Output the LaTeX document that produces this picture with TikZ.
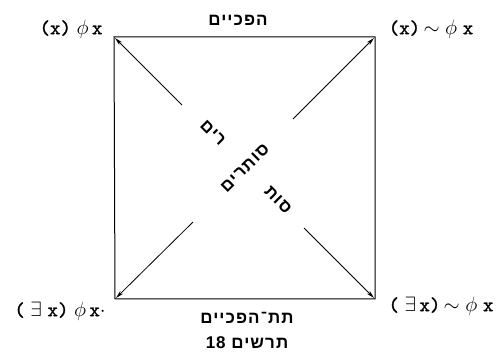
\documentclass[tikz,border=0pt]{standalone}
\usepackage{amsmath,amssymb}
\usepackage{fontspec}
\newfontfamily\hebfont[Script=Hebrew, LetterSpace=6]{Liberation Sans}
\newfontfamily\typefont[Extension=.otf, AutoFakeBold=1.2]{lmmono10-regular}
\TeXXeTstate=1
\usepackage{tikz}
\usetikzlibrary{arrows.meta}

\begin{document}
\begin{tikzpicture}[x=1pt,y=-1pt,
    formula/.style={inner sep=0pt, font=\typefont\bfseries\fontsize{20}{22}\selectfont},
    heb/.style={inner sep=0pt, font=\hebfont\bfseries\fontsize{17}{19}\selectfont},
    arr/.style={-{Stealth[length=8pt,width=4pt]}, line width=0.8pt, shorten >=1.5pt}]
    % Carre des oppositions
    \useasboundingbox (0,0) rectangle (504,358);
    \coordinate (tl) at (114,37);
    \coordinate (tr) at (375,37);
    \coordinate (bl) at (115,299);
    \coordinate (br) at (375,299);
    \draw[line width=1pt] (tl) -- (tr) -- (br) -- (bl) -- cycle;
    \coordinate (atl) at (182,105);
    \coordinate (atr) at (293,119);
    \coordinate (abl) at (193,222);
    \coordinate (abr) at (304,228);
    \draw[arr] (atl) -- (tl);
    \draw[arr] (atr) -- (tr);
    \draw[arr] (abl) -- (bl);
    \draw[arr] (abr) -- (br);
    \node[formula] (ftl) at (71,29) {(x)\;$\phi$\,x};
    \node[formula] (ftr) at (431,29) {(x)\,$\sim$\;$\phi$\;x};
    \node[formula] (fbl) at (60,311) {(\;$\exists$\;x)\;$\phi$\,x$\cdot$};
    \node[formula] (fbr) at (441,306) {(\;$\exists$\,x)\,$\sim$\;$\phi$\;x};
    \node[heb] (contr) at (238,20) {\beginR הפכיים\endR};
    \node[heb] (subc) at (247,318) {\beginR תת־הפכיים\endR};
    \node[heb] (capt) at (247,343) {\beginR תרשים \beginL18\endL\endR};
    \node[heb, rotate=45] (diag) at (245,168) {\beginR סותרים\endR};
    \node[heb, rotate=-45] (diaga) at (213,133) {\beginR רים\endR};
    \node[heb, rotate=-45] (diagb) at (278,200) {\beginR סות\endR};
\end{tikzpicture}
\end{document}
